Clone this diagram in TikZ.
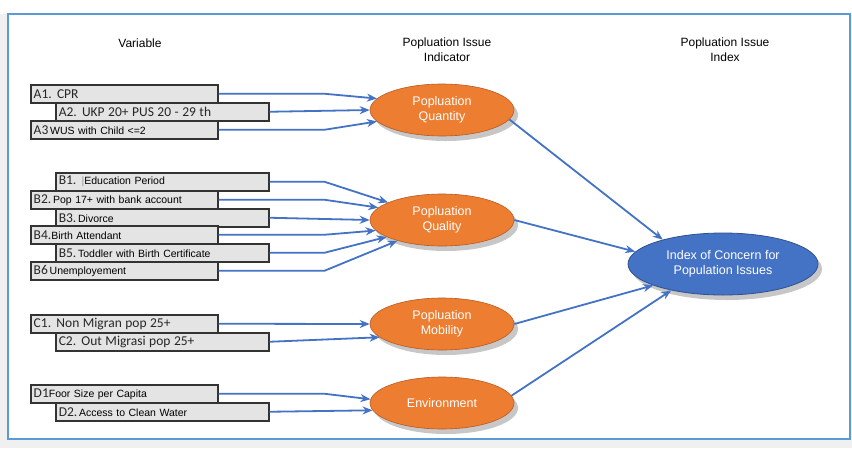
\documentclass[tikz,border=0pt]{standalone}
\usepackage{fontspec}
\setmainfont{Liberation Sans}
\newfontfamily\calib{Carlito}
\usetikzlibrary{arrows.meta,shapes.geometric,shadows}

\definecolor{frameblue}{HTML}{5B9BD5}
\definecolor{linkblue}{HTML}{4472C4}
\definecolor{orng}{HTML}{ED7D31}
\definecolor{orngdark}{HTML}{B85A22}
\definecolor{idxblue}{HTML}{4472C4}
\definecolor{idxdark}{HTML}{2F528F}
\definecolor{boxfill}{HTML}{E4E4E4}
\definecolor{prefixgray}{HTML}{262626}

\tikzset{
  varbox/.style={draw=black!80, line width=1.5pt, fill=boxfill,
    anchor=north west, inner xsep=3pt, inner ysep=0pt,
    minimum height=18pt, text width=#1, align=left,
    font=\fontsize{10.5}{12}\selectfont},
  indicator/.style={ellipse, fill=orng, draw=orngdark, line width=0.6pt,
    minimum width=144pt, minimum height=52pt, inner sep=0pt,
    text=white, align=center, font=\fontsize{12.5}{15}\selectfont,
    drop shadow={shadow xshift=4pt, shadow yshift=-5pt, opacity=0.22, fill=black}},
  indexnode/.style={ellipse, fill=idxblue, draw=idxdark, line width=0.8pt,
    minimum width=190pt, minimum height=62pt, inner sep=0pt,
    text=white, align=center, font=\fontsize{12.5}{15}\selectfont,
    drop shadow={shadow xshift=4pt, shadow yshift=-5pt, opacity=0.22, fill=black}},
  heading/.style={fill=white, align=center, inner xsep=6pt, inner ysep=3pt,
    font=\fontsize{12}{15}\selectfont},
  link/.style={draw=linkblue, line width=1.8pt,
    -{Stealth[length=10pt, width=8pt]}},
}
\newcommand{\pf}[1]{{\calib\fontsize{13.5}{14}\selectfont\color{prefixgray}#1}}

\begin{document}
\begin{tikzpicture}[x=1pt, y=-1pt]
  \useasboundingbox (0,0) rectangle (852,448);
  % backdrop and frame
  \fill[black!6] (0,0) rectangle (852,448);
  \fill[white] (0,0) rectangle (852,14);
  \draw[frameblue, line width=2pt, fill=white] (8,14) rectangle (850,439);

  % column headings
  \node[heading, minimum width=86pt, minimum height=21pt] (hvar) at (140,43) {Variable};
  \node[heading] (hind) at (447,50) {Popluation Issue\\Indicator};
  \node[heading] (hidx) at (725,50) {Popluation Issue\\Index};

  % variables: group A
  \node[varbox=181pt] (a1) at (30,84)  {\pf{A1. CPR}};
  \node[varbox=207pt] (a2) at (55,102) {\pf{A2. UKP 20+ PUS 20 - 29 th}};
  \node[varbox=181pt] (a3) at (30,120) {\pf{A3}\,WUS with Child <=2};

  % group B
  \node[varbox=207pt] (b1) at (55,172) {\pf{B1.} {\color{black!40}|}Education Period};
  \node[varbox=181pt] (b2) at (30,190) {\pf{B2.}\,Pop 17+ with bank account};
  \node[varbox=207pt] (b3) at (55,208) {\pf{B3.}\,Divorce};
  \node[varbox=181pt] (b4) at (30,225) {\pf{B4.}Birth Attendant};
  \node[varbox=207pt] (b5) at (55,243) {\pf{B5.}\,Toddler with Birth Certificate};
  \node[varbox=181pt] (b6) at (30,261) {\pf{B6}\,Unemployement};

  % group C
  \node[varbox=181pt] (c1) at (30,314) {\pf{C1. Non Migran pop 25+}};
  \node[varbox=207pt] (c2) at (55,332) {\pf{C2. Out Migrasi pop 25+}};

  % group D
  \node[varbox=181pt] (d1) at (30,384) {\pf{D1}Foor Size per Capita};
  \node[varbox=207pt] (d2) at (55,402) {\pf{D2.}\,Access to Clean Water};

  % indicators
  \node[indicator] (qty) at (442,110) {Popluation\\Quantity};
  \node[indicator] (qual) at (442,220) {Popluation\\Quality};
  \node[indicator] (mob) at (442,324) {Popluation\\Mobility};
  \node[indicator] (env) at (442,403) {Environment};

  % index
  \node[indexnode] (idx) at (723,264) {Index of Concern for\\Population Issues};

  % variable -> indicator
  \draw[link] (a1.east) -- ++(106,0) -- (qty.170);
  \draw[link] (a2.east) -- (qty.180);
  \draw[link] (a3.east) -- ++(106,0) -- (qty.190);

  \draw[link] (b1.east) -- ++(55,0) -- (qual.162);
  \draw[link] (b2.east) -- ++(106,0) -- (qual.169);
  \draw[link] (b3.east) -- (qual.180);
  \draw[link] (b4.east) -- ++(106,0) -- (qual.189);
  \draw[link] (b5.east) -- ++(55,0) -- (qual.197);
  \draw[link] (b6.east) -- ++(106,0) -- (qual.205);

  \draw[link] (c1.east) -- (mob.180);
  \draw[link] (c2.east) -- (mob.192);

  \draw[link] (d1.east) -- ++(106,0) -- (env.177);
  \draw[link] (d2.east) -- (env.186);

  % indicator -> index
  \draw[link] (qty.-8) -- (idx.158);
  \draw[link] (qual.0) -- (idx.172);
  \draw[link] (mob.0) -- (idx.197);
  \draw[link] (env.6) -- (idx.207);
\end{tikzpicture}
\end{document}
